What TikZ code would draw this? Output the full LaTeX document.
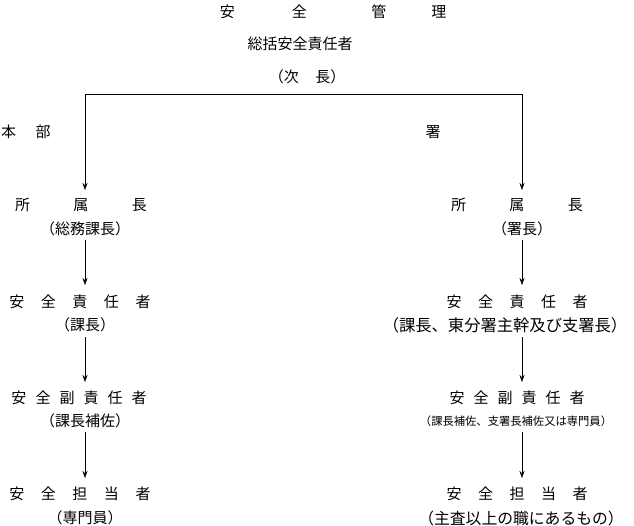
\documentclass[tikz,border=0pt]{standalone}
\usepackage{fontspec}
\setmainfont{Noto Sans CJK JP}
\usetikzlibrary{arrows.meta}
\begin{document}
\begin{tikzpicture}[x=1pt,y=-1pt,font=\fontsize{15}{17}\selectfont,
	lbl/.style={inner sep=1pt},
	arr/.style={-{Stealth[length=7pt,width=5pt]},thin}]
	\useasboundingbox (0,0) rectangle (634,526);
	% top
	\node[lbl] (title) at (333,12) {安\hspace{3.8em}全\hspace{4.3em}管\hspace{3em}理};
	\node[lbl] (sup) at (300,44) {総括安全責任者};
	\node[lbl] (vice) at (307,77) {（次\hspace{1.1em}長）};
	\coordinate (jl) at (85,94);
	\coordinate (jr) at (522,94);
	\node[lbl] (hq) at (26,132) {本\hspace{1.3em}部};
	\node[lbl] (st) at (433,132) {署};
	% left column
	\node[lbl] (l1) at (81,205) {所\hspace{2.9em}属\hspace{2.9em}長};
	\node[lbl] (l1s) at (85,229) {（総務課長）};
	\node[lbl] (l2) at (80,302) {安\hspace{1.1em}全\hspace{1.1em}責\hspace{1.1em}任\hspace{1.1em}者};
	\node[lbl] (l2s) at (85,325) {（課長）};
	\node[lbl] (l3) at (79,398) {安\hspace{0.6em}全\hspace{0.6em}副\hspace{0.6em}責\hspace{0.6em}任\hspace{0.6em}者};
	\node[lbl] (l3s) at (85,421) {（課長補佐）};
	\node[lbl] (l4) at (80,494) {安\hspace{1.1em}全\hspace{1.1em}担\hspace{1.1em}当\hspace{1.1em}者};
	\node[lbl] (l4s) at (85,518) {（専門員）};
	% right column
	\node[lbl] (r1) at (517,205) {所\hspace{2.9em}属\hspace{2.9em}長};
	\node[lbl] (r1s) at (522,229) {（署長）};
	\node[lbl] (r2) at (517,302) {安\hspace{1.1em}全\hspace{1.1em}責\hspace{1.1em}任\hspace{1.1em}者};
	\node[lbl,font=\fontsize{16.3}{18}\selectfont] (r2s) at (505,325) {（課長、東分署主幹及び支署長）};
	\node[lbl] (r3) at (517,398) {安\hspace{0.6em}全\hspace{0.6em}副\hspace{0.6em}責\hspace{0.6em}任\hspace{0.6em}者};
	\node[lbl,font=\fontsize{11.3}{13}\selectfont] (r3s) at (516,421) {（課長補佐、支署長補佐又は専門員）};
	\node[lbl] (r4) at (517,494) {安\hspace{1.1em}全\hspace{1.1em}担\hspace{1.1em}当\hspace{1.1em}者};
	\node[lbl,font=\fontsize{15.8}{18}\selectfont] (r4s) at (521,518) {（主査以上の職にあるもの）};
	% connectors
	\draw (jl) -- (jr);
	\draw[arr] (jl) -- (85,190);
	\draw[arr] (jr) -- (522,190);
	\draw[arr] (85,240) -- (85,285);
	\draw[arr] (85,337) -- (85,382);
	\draw[arr] (85,432) -- (85,478);
	\draw[arr] (522,240) -- (522,285);
	\draw[arr] (522,337) -- (522,382);
	\draw[arr] (522,432) -- (522,478);
\end{tikzpicture}
\end{document}
